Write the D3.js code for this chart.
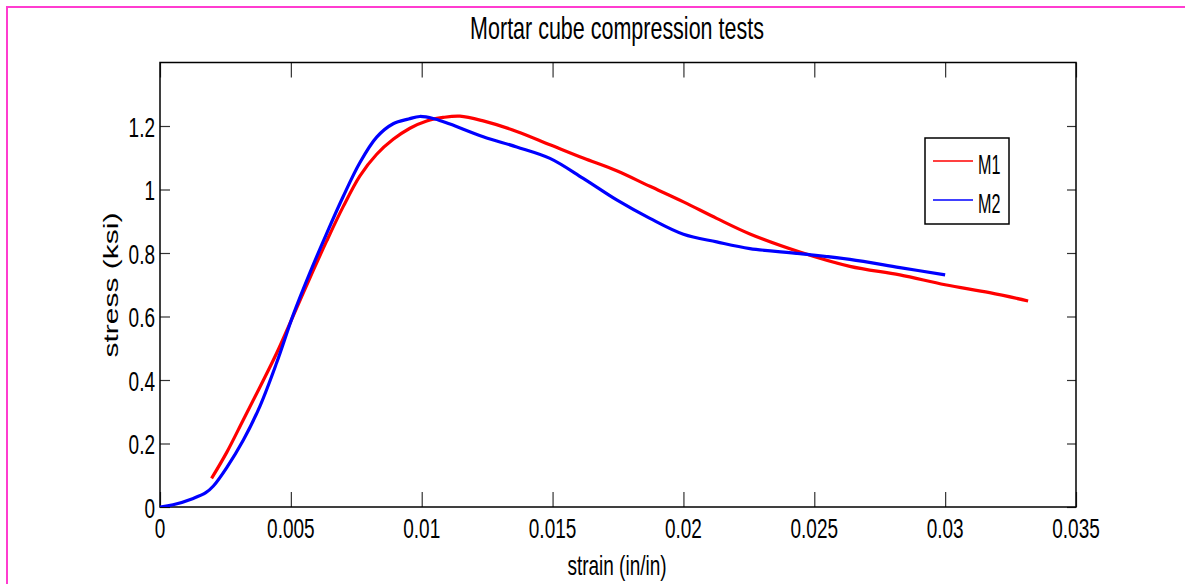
<!DOCTYPE html>
<html>
<head>
<meta charset="utf-8">
<script src="https://cdn.jsdelivr.net/npm/d3@7"></script>
<style>
  html, body { margin: 0; padding: 0; background: #fff; }
  svg { display: block; }
  text { font-family: "Liberation Sans", Arial, sans-serif; fill: #000; }
</style>
</head>
<body>
<svg id="chart" width="1185" height="584"></svg>
<script>
// ---- data ----
const title = "Mortar cube compression tests";
const xLabel = "strain (in/in)";
const yLabel = "stress (ksi)";
const seriesNames = ["M1", "M2"];
const xTicks = [0, 0.005, 0.01, 0.015, 0.02, 0.025, 0.03, 0.035];
const xTickLabels = ["0", "0.005", "0.01", "0.015", "0.02", "0.025", "0.03", "0.035"];
const yTicks = [0, 0.2, 0.4, 0.6, 0.8, 1, 1.2];
const yTickLabels = ["0", "0.2", "0.4", "0.6", "0.8", "1", "1.2"];

const m1Strain = [0.00197, 0.00255, 0.00318, 0.00382, 0.00446, 0.00509, 0.00573, 0.00637, 0.00700, 0.00764, 0.00828, 0.00891, 0.00955, 0.01019, 0.01082, 0.01146, 0.01235, 0.01363, 0.01490, 0.01617, 0.01745, 0.01872, 0.02000, 0.02127, 0.02254, 0.02445, 0.02636, 0.02827, 0.03000, 0.03170, 0.03317];
const m1Stress = [0.090, 0.172, 0.274, 0.378, 0.485, 0.602, 0.722, 0.838, 0.946, 1.043, 1.111, 1.158, 1.193, 1.216, 1.227, 1.231, 1.216, 1.183, 1.141, 1.099, 1.059, 1.010, 0.961, 0.909, 0.860, 0.803, 0.758, 0.731, 0.700, 0.675, 0.649];

const m2Strain = [0, 0.0005, 0.00127, 0.00175, 0.00204, 0.00255, 0.00318, 0.00382, 0.00446, 0.00509, 0.00573, 0.00637, 0.00700, 0.00764, 0.00828, 0.00891, 0.00950, 0.00993, 0.01050, 0.01108, 0.01235, 0.01363, 0.01490, 0.01617, 0.01745, 0.01872, 0.02000, 0.02127, 0.02254, 0.02445, 0.02636, 0.02827, 0.03000];
const m2Stress = [0, 0.007, 0.027, 0.045, 0.066, 0.124, 0.210, 0.318, 0.455, 0.605, 0.738, 0.862, 0.978, 1.085, 1.165, 1.207, 1.222, 1.230, 1.222, 1.206, 1.166, 1.134, 1.098, 1.035, 0.967, 0.909, 0.859, 0.835, 0.814, 0.798, 0.780, 0.754, 0.731];

const colors = ["#ff0000", "#0000ff"];

// ---- layout ----
const svg = d3.select("#chart");
const L = 160, R = 1076, T = 62.5, B = 507;
const x = d3.scaleLinear().domain([0, 0.035]).range([L, R]);
const y = d3.scaleLinear().domain([0, 1.4]).range([B, T]);
const SY = 1.5; // vertical stretch of text

// frame
svg.append("path")
  .attr("d", "M7,584 V7 H1185")
  .attr("fill", "none").attr("stroke", "#ff3ccf").attr("stroke-width", 2);

svg.append("rect").attr("x", L).attr("y", T).attr("width", R - L).attr("height", B - T)
  .attr("fill", "#fff");

// axes (inward ticks)
function styleAxis(g) {
  g.select(".domain").remove();
  g.selectAll(".tick line").attr("stroke", "#333").attr("stroke-width", 1.2);
  g.selectAll(".tick text").remove();
}
svg.append("g").attr("transform", `translate(0,${B})`)
  .call(d3.axisBottom(x).tickValues(xTicks).tickSize(-15).tickFormat(""))
  .call(styleAxis);
svg.append("g").attr("transform", `translate(0,${T})`)
  .call(d3.axisTop(x).tickValues(xTicks).tickSize(-15).tickFormat(""))
  .call(styleAxis);
svg.append("g").attr("transform", `translate(${L},0)`)
  .call(d3.axisLeft(y).tickValues(yTicks).tickSize(-10).tickFormat(""))
  .call(styleAxis);
svg.append("g").attr("transform", `translate(${R},0)`)
  .call(d3.axisRight(y).tickValues(yTicks).tickSize(-9).tickFormat(""))
  .call(styleAxis);

svg.append("rect").attr("x", L).attr("y", T).attr("width", R - L).attr("height", B - T)
  .attr("fill", "none").attr("stroke", "#000").attr("stroke-width", 1.5);

// tick labels
xTicks.forEach((v, i) => {
  svg.append("text")
    .attr("transform", `translate(${x(v)},538) scale(1,${SY})`)
    .attr("text-anchor", "middle").attr("font-size", 19)
    .text(xTickLabels[i]);
});
yTicks.forEach((v, i) => {
  svg.append("text")
    .attr("transform", `translate(155,${y(v) + 10.5}) scale(1,${SY})`)
    .attr("text-anchor", "end").attr("font-size", 19)
    .text(yTickLabels[i]);
});

// lines
const line = d3.line().x(d => x(d[0])).y(d => y(d[1])).curve(d3.curveCatmullRom.alpha(0.5));
const series = [d3.zip(m1Strain, m1Stress), d3.zip(m2Strain, m2Stress)];
svg.append("clipPath").attr("id", "clip").append("rect")
  .attr("x", L).attr("y", T).attr("width", R - L).attr("height", B - T);
series.forEach((s, i) => {
  svg.append("path").datum(s)
    .attr("clip-path", "url(#clip)")
    .attr("d", line)
    .attr("fill", "none").attr("stroke", colors[i]).attr("stroke-width", 3.2)
    .attr("stroke-linejoin", "round");
});

// title & labels
svg.append("text")
  .attr("transform", `translate(617,39) scale(1,${SY})`)
  .attr("text-anchor", "middle").attr("font-size", 21.5)
  .text(title);
svg.append("text")
  .attr("transform", `translate(617,575) scale(1,${SY})`)
  .attr("text-anchor", "middle").attr("font-size", 19)
  .text(xLabel);
svg.append("text")
  .attr("transform", `translate(118,285) rotate(-90) scale(${SY},1)`)
  .attr("text-anchor", "middle").attr("font-size", 20)
  .text(yLabel);

// legend
const lg = svg.append("g");
lg.append("rect").attr("x", 925).attr("y", 138).attr("width", 84).attr("height", 86)
  .attr("fill", "#fff").attr("stroke", "#000").attr("stroke-width", 1.5);
const legY = [161, 200];
seriesNames.forEach((n, i) => {
  lg.append("line").attr("x1", 933).attr("x2", 973).attr("y1", legY[i]).attr("y2", legY[i])
    .attr("stroke", colors[i]).attr("stroke-width", 1.5);
  lg.append("text")
    .attr("transform", `translate(978,${legY[i] + 13}) scale(0.85,${SY})`)
    .attr("font-size", 19)
    .text(n);
});
</script>
</body>
</html>
